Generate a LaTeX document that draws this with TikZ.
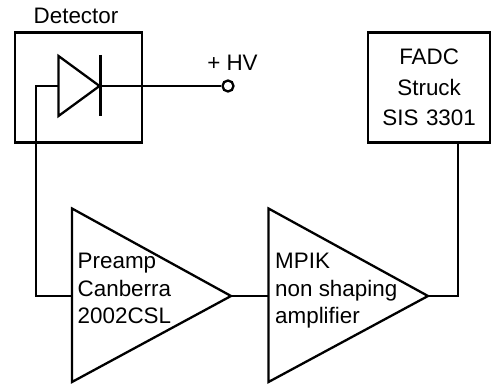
\documentclass[tikz,border=0pt]{standalone}
\usepackage{fontspec}
\setmainfont{Liberation Sans}
\tikzset{
  wire/.style={line width=2.3pt,line cap=butt,line join=miter},
  lbl/.style={inner sep=0pt,font=\fontsize{22.4}{27.5}\selectfont},
  blockbox/.style={draw,line width=2.3pt,inner sep=0pt,minimum width=127pt,minimum height=110pt,align=center,font=\fontsize{22.4}{30.5}\selectfont}
}
\begin{document}
\begin{tikzpicture}[x=1pt,y=-1pt]
\useasboundingbox (0,0) rectangle (491,385);
% blocks
\node[blockbox,anchor=north west] (det) at (13.5,31.5) {};
\node[blockbox,anchor=north west,minimum width=122pt,text width=122pt] (fadc) at (367,31.5) {\raisebox{-2pt}{FADC}\\\raisebox{-2pt}{Struck}\\\raisebox{-2pt}{SIS 3301}};
\node[lbl,anchor=base] (dettext) at (76,24) {Detector};
\node[lbl,anchor=base] (hvtext) at (232.5,71) {+ HV};
% diode
\coordinate (dtl) at (58.5,56);
\coordinate (dbl) at (58.5,116);
\coordinate (dtip) at (99.5,86);
\coordinate (dinA) at (58.5,86);
\coordinate (barT) at (100.5,55);
\coordinate (barB) at (100.5,116.5);
\coordinate (dbend) at (36,86);
\draw[wire] (dtl) -- (dtip) -- (dbl) -- cycle;
\draw[wire] (barT) -- (barB);
% amplifiers
\coordinate (atl) at (72,208.5);
\coordinate (abl) at (72,382);
\coordinate (atip) at (231,296);
\coordinate (ain) at (72,296);
\coordinate (btl) at (268.5,208.5);
\coordinate (bbl) at (268.5,382);
\coordinate (btip) at (428,296);
\coordinate (bin) at (268.5,296);
\draw[wire] (atl) -- (atip) -- (abl) -- cycle;
\draw[wire] (btl) -- (btip) -- (bbl) -- cycle;
\node[lbl,anchor=north west,align=left] (atext) at (77.5,253) {Preamp\\Canberra\\2002CSL};
\node[lbl,anchor=north west,align=left] (btext) at (275,253) {MPIK\\non shaping\\amplifier};
% HV terminal
\node[circle,draw,line width=2.3pt,fill=white,inner sep=0pt,minimum size=11pt] (hv) at (228,86) {};
% connectors
\coordinate (acorner) at (36,296);
\coordinate (fcorner) at (458,296);
\coordinate (fout) at (458,141);
\draw[wire] (dinA) -- (dbend) -- (acorner) -- (ain);
\draw[wire] (dtip) -- (hv);
\draw[wire] (atip) -- (bin);
\draw[wire] (btip) -- (fcorner) -- (fout);
\end{tikzpicture}
\end{document}
